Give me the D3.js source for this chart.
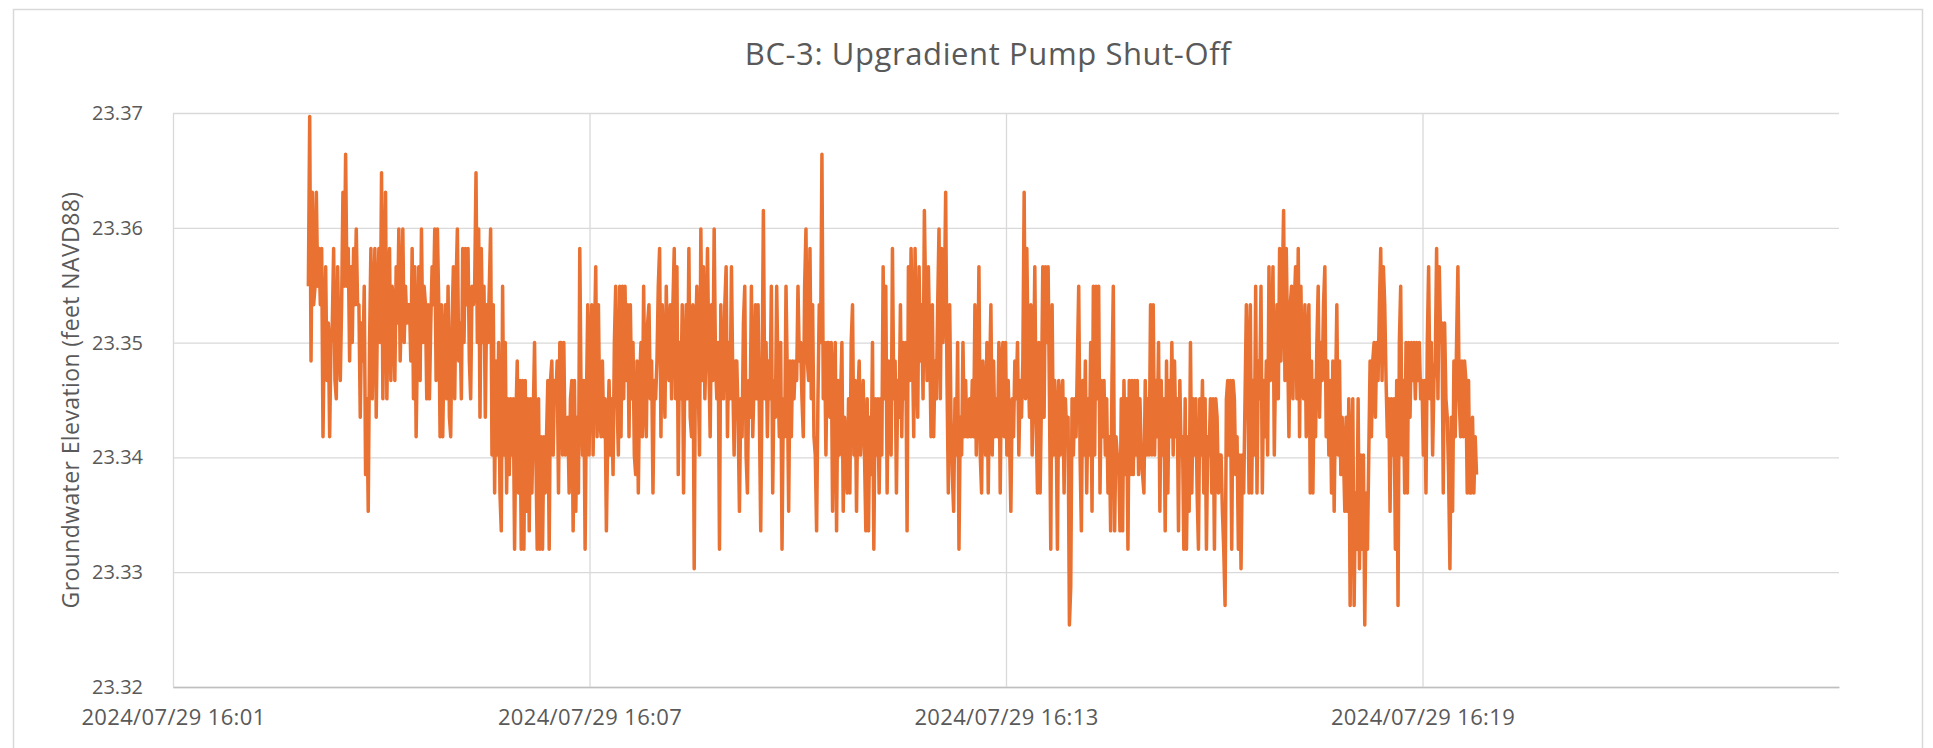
<!DOCTYPE html>
<html>
<head>
<meta charset="utf-8">
<script src="https://cdn.jsdelivr.net/npm/d3@7"></script>
<style>
  html, body { margin: 0; padding: 0; background: #ffffff; }
  svg text { font-family: "Open Sans", "Noto Sans", sans-serif; fill: #595959; }
</style>
</head>
<body>
<svg id="chart" width="1933" height="748"></svg>
<script>
// ---- chart text ----
const chartTitle = "BC-3: Upgradient Pump Shut-Off";
const yAxisTitle = "Groundwater Elevation (feet NAVD88)";

// ---- axes ----
const yTicks = [23.32, 23.33, 23.34, 23.35, 23.36, 23.37];
const xTickLabels = ["2024/07/29 16:01", "2024/07/29 16:07", "2024/07/29 16:13", "2024/07/29 16:19"];
const xDomain = ["2024/07/29 16:01", "2024/07/29 16:25"];

// ---- logger readings (feet NAVD88), evenly spaced from the first reading ----
const firstReading = "2024/07/29 16:02:57";
const readingIntervalMs = 1150;
const elevationFt = [
  23.3549, 23.3697, 23.3484, 23.3631, 23.3533, 23.3549, 23.3631, 23.3549, 23.3582, 23.3533,
  23.3582, 23.3418, 23.3517, 23.3566, 23.3467, 23.3517, 23.3418, 23.3500, 23.3517, 23.3582,
  23.3467, 23.3451, 23.3566, 23.3500, 23.3467, 23.3533, 23.3631, 23.3549, 23.3664, 23.3549,
  23.3582, 23.3484, 23.3566, 23.3500, 23.3582, 23.3533, 23.3599, 23.3533, 23.3533, 23.3435,
  23.3517, 23.3484, 23.3549, 23.3385, 23.3451, 23.3353, 23.3500, 23.3582, 23.3451, 23.3533,
  23.3582, 23.3435, 23.3533, 23.3582, 23.3500, 23.3648, 23.3451, 23.3549, 23.3631, 23.3451,
  23.3533, 23.3582, 23.3467, 23.3549, 23.3533, 23.3467, 23.3566, 23.3517, 23.3599, 23.3484,
  23.3533, 23.3599, 23.3500, 23.3549, 23.3517, 23.3533,

  23.3533, 23.3484, 23.3582, 23.3451, 23.3566, 23.3418, 23.3500, 23.3566, 23.3467, 23.3599,
  23.3500, 23.3549, 23.3533, 23.3451, 23.3533, 23.3451, 23.3517, 23.3566, 23.3533, 23.3599,
  23.3467, 23.3599, 23.3533, 23.3418, 23.3533, 23.3418, 23.3500, 23.3533, 23.3451, 23.3549,
  23.3435, 23.3418, 23.3517, 23.3566, 23.3451, 23.3549, 23.3599, 23.3484, 23.3517, 23.3451,
  23.3582, 23.3500, 23.3582, 23.3533, 23.3582, 23.3484, 23.3451, 23.3549, 23.3533, 23.3549,
  23.3648, 23.3500, 23.3599, 23.3435, 23.3582, 23.3500, 23.3549, 23.3435, 23.3533, 23.3500,
  23.3549, 23.3599, 23.3402, 23.3533, 23.3369, 23.3484, 23.3402, 23.3500, 23.3369, 23.3336,
  23.3549, 23.3402, 23.3500, 23.3369, 23.3451, 23.3385, 23.3451,

  23.3402, 23.3451, 23.3320, 23.3435, 23.3484, 23.3369, 23.3467, 23.3320, 23.3467, 23.3320,
  23.3467, 23.3353, 23.3451, 23.3336, 23.3451, 23.3369, 23.3435, 23.3500, 23.3402, 23.3320,
  23.3451, 23.3320, 23.3418, 23.3320, 23.3418, 23.3369, 23.3418, 23.3467, 23.3320, 23.3467,
  23.3484, 23.3402, 23.3467, 23.3451, 23.3484, 23.3369, 23.3500, 23.3500, 23.3402, 23.3500,
  23.3402, 23.3418, 23.3435, 23.3369, 23.3451, 23.3467, 23.3336, 23.3467, 23.3353, 23.3435,
  23.3369, 23.3582, 23.3451, 23.3402, 23.3467, 23.3320, 23.3451, 23.3533, 23.3402, 23.3500,
  23.3533, 23.3402, 23.3500, 23.3566, 23.3418, 23.3533, 23.3435, 23.3418, 23.3484, 23.3418,
  23.3451, 23.3336, 23.3418, 23.3467, 23.3402, 23.3451, 23.3385, 23.3500, 23.3549, 23.3451,

  23.3402, 23.3549, 23.3418, 23.3549, 23.3451, 23.3549, 23.3467, 23.3533, 23.3418, 23.3533,
  23.3451, 23.3500, 23.3402, 23.3385, 23.3484, 23.3369, 23.3467, 23.3500, 23.3418, 23.3549,
  23.3451, 23.3418, 23.3517, 23.3533, 23.3451, 23.3484, 23.3369, 23.3467, 23.3451, 23.3484,
  23.3549, 23.3582, 23.3418, 23.3533, 23.3484, 23.3435, 23.3549, 23.3484, 23.3467, 23.3533,
  23.3451, 23.3533, 23.3582, 23.3451, 23.3566, 23.3385, 23.3500, 23.3451, 23.3533, 23.3369,
  23.3484, 23.3533, 23.3451, 23.3582, 23.3435, 23.3418, 23.3533, 23.3303, 23.3500, 23.3549,
  23.3467, 23.3402, 23.3599, 23.3467, 23.3566, 23.3451, 23.3500, 23.3582, 23.3484, 23.3418,
  23.3533, 23.3467, 23.3599, 23.3484, 23.3451, 23.3500, 23.3320, 23.3533, 23.3467,

  23.3451, 23.3533, 23.3566, 23.3418, 23.3500, 23.3451, 23.3566, 23.3467, 23.3402, 23.3484,
  23.3484, 23.3435, 23.3353, 23.3451, 23.3418, 23.3517, 23.3549, 23.3402, 23.3369, 23.3467,
  23.3435, 23.3549, 23.3418, 23.3467, 23.3533, 23.3451, 23.3533, 23.3435, 23.3336, 23.3467,
  23.3615, 23.3451, 23.3500, 23.3418, 23.3484, 23.3451, 23.3549, 23.3369, 23.3467, 23.3435,
  23.3549, 23.3467, 23.3418, 23.3500, 23.3320, 23.3451, 23.3418, 23.3549, 23.3467, 23.3353,
  23.3484, 23.3418, 23.3484, 23.3451, 23.3484, 23.3467, 23.3549, 23.3484, 23.3500, 23.3451,
  23.3418, 23.3549, 23.3599, 23.3484, 23.3467, 23.3582, 23.3451, 23.3533, 23.3418, 23.3402,
  23.3336, 23.3451, 23.3533, 23.3500, 23.3664, 23.3451, 23.3500, 23.3402, 23.3500,

  23.3500, 23.3435, 23.3500, 23.3353, 23.3467, 23.3500, 23.3336, 23.3467, 23.3402, 23.3451,
  23.3500, 23.3353, 23.3435, 23.3402, 23.3369, 23.3451, 23.3369, 23.3500, 23.3533, 23.3402,
  23.3467, 23.3353, 23.3451, 23.3484, 23.3402, 23.3435, 23.3467, 23.3402, 23.3336, 23.3451,
  23.3336, 23.3435, 23.3385, 23.3500, 23.3320, 23.3451, 23.3402, 23.3451, 23.3369, 23.3451,
  23.3402, 23.3566, 23.3451, 23.3549, 23.3369, 23.3484, 23.3435, 23.3402, 23.3582, 23.3451,
  23.3484, 23.3369, 23.3467, 23.3435, 23.3533, 23.3418, 23.3500, 23.3451, 23.3500, 23.3336,
  23.3566, 23.3467, 23.3582, 23.3500, 23.3418, 23.3582, 23.3484, 23.3435, 23.3566, 23.3484,
  23.3533, 23.3451, 23.3615, 23.3533, 23.3467, 23.3566, 23.3500, 23.3418, 23.3533,

  23.3418, 23.3484, 23.3451, 23.3533, 23.3599, 23.3451, 23.3582, 23.3500, 23.3533, 23.3631,
  23.3467, 23.3369, 23.3533, 23.3435, 23.3385, 23.3353, 23.3451, 23.3402, 23.3500, 23.3320,
  23.3435, 23.3402, 23.3500, 23.3418, 23.3467, 23.3418, 23.3418, 23.3451, 23.3418, 23.3467,
  23.3418, 23.3533, 23.3402, 23.3451, 23.3566, 23.3402, 23.3369, 23.3484, 23.3451, 23.3402,
  23.3500, 23.3369, 23.3467, 23.3533, 23.3402, 23.3484, 23.3418, 23.3451, 23.3418, 23.3500,
  23.3369, 23.3484, 23.3500, 23.3418, 23.3500, 23.3402, 23.3467, 23.3418, 23.3353, 23.3451,
  23.3418, 23.3484, 23.3451, 23.3500, 23.3402, 23.3467, 23.3435, 23.3484, 23.3631, 23.3451,
  23.3582, 23.3484, 23.3435, 23.3533, 23.3402, 23.3467, 23.3566, 23.3435, 23.3369,

  23.3500, 23.3369, 23.3451, 23.3566, 23.3435, 23.3566, 23.3500, 23.3566, 23.3451, 23.3320,
  23.3533, 23.3402, 23.3467, 23.3435, 23.3320, 23.3467, 23.3402, 23.3451, 23.3467, 23.3369,
  23.3451, 23.3418, 23.3435, 23.3254, 23.3287, 23.3451, 23.3402, 23.3451, 23.3418, 23.3484,
  23.3549, 23.3402, 23.3336, 23.3467, 23.3402, 23.3484, 23.3369, 23.3451, 23.3402, 23.3500,
  23.3353, 23.3549, 23.3402, 23.3549, 23.3451, 23.3549, 23.3369, 23.3467, 23.3418, 23.3467,
  23.3402, 23.3451, 23.3369, 23.3418, 23.3336, 23.3467, 23.3549, 23.3336, 23.3418, 23.3402,
  23.3402, 23.3336, 23.3451, 23.3336, 23.3467, 23.3385, 23.3451, 23.3320, 23.3467, 23.3385,
  23.3467, 23.3385, 23.3467, 23.3402, 23.3467, 23.3385, 23.3451, 23.3402, 23.3385,

  23.3369, 23.3467, 23.3402, 23.3451, 23.3402, 23.3533, 23.3402, 23.3533, 23.3402, 23.3467,
  23.3418, 23.3500, 23.3353, 23.3467, 23.3402, 23.3451, 23.3336, 23.3484, 23.3369, 23.3467,
  23.3418, 23.3500, 23.3402, 23.3484, 23.3418, 23.3451, 23.3336, 23.3467, 23.3402, 23.3418,
  23.3320, 23.3451, 23.3320, 23.3418, 23.3353, 23.3500, 23.3369, 23.3451, 23.3402, 23.3451,
  23.3369, 23.3320, 23.3451, 23.3402, 23.3467, 23.3369, 23.3451, 23.3320, 23.3418, 23.3402,
  23.3451, 23.3369, 23.3451, 23.3320, 23.3451, 23.3435, 23.3369, 23.3402, 23.3402, 23.3353,
  23.3320, 23.3271, 23.3451, 23.3467, 23.3402, 23.3467, 23.3320, 23.3467, 23.3451, 23.3385,
  23.3418, 23.3320, 23.3402, 23.3303, 23.3402, 23.3369, 23.3451, 23.3533, 23.3484,

  23.3369, 23.3533, 23.3369, 23.3467, 23.3402, 23.3549, 23.3369, 23.3484, 23.3451, 23.3549,
  23.3369, 23.3467, 23.3418, 23.3484, 23.3402, 23.3566, 23.3467, 23.3500, 23.3566, 23.3402,
  23.3484, 23.3533, 23.3451, 23.3582, 23.3484, 23.3549, 23.3615, 23.3467, 23.3582, 23.3500,
  23.3418, 23.3533, 23.3549, 23.3451, 23.3533, 23.3566, 23.3451, 23.3582, 23.3418, 23.3549,
  23.3467, 23.3451, 23.3533, 23.3418, 23.3500, 23.3533, 23.3369, 23.3484, 23.3369, 23.3467,
  23.3418, 23.3500, 23.3549, 23.3435, 23.3500, 23.3467, 23.3533, 23.3566, 23.3418, 23.3484,
  23.3402, 23.3467, 23.3369, 23.3484, 23.3353, 23.3451, 23.3533, 23.3402, 23.3484, 23.3385,
  23.3435, 23.3402, 23.3353, 23.3435, 23.3353, 23.3451, 23.3271, 23.3402, 23.3451,

  23.3271, 23.3369, 23.3320, 23.3451, 23.3303, 23.3402, 23.3320, 23.3402, 23.3254, 23.3369,
  23.3320, 23.3402, 23.3484, 23.3418, 23.3484, 23.3500, 23.3435, 23.3500, 23.3467, 23.3533,
  23.3582, 23.3467, 23.3566, 23.3533, 23.3467, 23.3418, 23.3451, 23.3353, 23.3451, 23.3402,
  23.3451, 23.3320, 23.3467, 23.3271, 23.3500, 23.3549, 23.3402, 23.3467, 23.3369, 23.3500,
  23.3369, 23.3500, 23.3435, 23.3500, 23.3467, 23.3500, 23.3451, 23.3500, 23.3467, 23.3500,
  23.3451, 23.3467, 23.3402, 23.3467, 23.3369, 23.3500, 23.3566, 23.3451, 23.3500, 23.3402,
  23.3467, 23.3484, 23.3582, 23.3451, 23.3566, 23.3500, 23.3517, 23.3369, 23.3517, 23.3451,
  23.3435, 23.3385, 23.3303, 23.3435, 23.3353, 23.3484, 23.3418, 23.3500, 23.3566, 23.3451,
  23.3418, 23.3484, 23.3418, 23.3484, 23.3467, 23.3369, 23.3467, 23.3369, 23.3369, 23.3435,
  23.3369, 23.3418, 23.3385
];

// ---- layout ----
const plot = { left: 173, right: 1839, top: 113, bottom: 687 };
const lineColor = "#E97132";
const gridColor = "#d9d9d9";
const labelFont = '"Open Sans", "Noto Sans", sans-serif';

const svg = d3.select("#chart");

// chart-area frame
svg.append("rect")
  .attr("x", 13.5).attr("y", 9.5)
  .attr("width", 1909).attr("height", 760)
  .attr("fill", "#ffffff").attr("stroke", "#d9d9d9").attr("stroke-width", 1.5);

const parseMinute = d3.timeParse("%Y/%m/%d %H:%M");
const parseSecond = d3.timeParse("%Y/%m/%d %H:%M:%S");

const x = d3.scaleTime()
  .domain(xDomain.map(parseMinute))
  .range([plot.left, plot.right]);
const y = d3.scaleLinear()
  .domain([yTicks[0], yTicks[yTicks.length - 1]])
  .range([plot.bottom, plot.top]);

// horizontal gridlines + value labels
const yAxis = svg.append("g")
  .attr("transform", `translate(${plot.left},0)`)
  .call(d3.axisLeft(y)
    .tickValues(yTicks)
    .tickFormat(d3.format(".2f"))
    .tickSize(-(plot.right - plot.left))
    .tickPadding(30));
yAxis.select(".domain").remove();
yAxis.selectAll(".tick line").attr("stroke", gridColor).attr("stroke-width", 1.3);
yAxis.selectAll(".tick text")
  .attr("font-size", 20).attr("fill", "#595959")
  .style("font-family", labelFont);

// vertical gridlines + time labels
const xAxis = svg.append("g")
  .attr("transform", `translate(0,${plot.bottom})`)
  .call(d3.axisBottom(x)
    .tickValues(xTickLabels.map(parseMinute))
    .tickFormat(d3.timeFormat("%Y/%m/%d %H:%M"))
    .tickSize(-(plot.bottom - plot.top))
    .tickSizeOuter(0)
    .tickPadding(22));
xAxis.select(".domain").attr("stroke", "#bfbfbf").attr("stroke-width", 1.3);
xAxis.selectAll(".tick line").attr("stroke", gridColor).attr("stroke-width", 1.3);
xAxis.selectAll(".tick text")
  .attr("font-size", 22).attr("fill", "#595959")
  .attr("letter-spacing", "0.35px")
  .style("font-family", labelFont);

// readings
const t0 = parseSecond(firstReading).getTime();
const readings = elevationFt.map((v, i) => ({ t: new Date(t0 + i * readingIntervalMs), v }));

svg.append("path")
  .datum(readings)
  .attr("fill", "none")
  .attr("stroke", lineColor)
  .attr("stroke-width", 3.5)
  .attr("stroke-linejoin", "round")
  .attr("d", d3.line().x(d => x(d.t)).y(d => y(d.v)));

// title
svg.append("text")
  .attr("x", 988).attr("y", 65)
  .attr("text-anchor", "middle")
  .attr("font-size", 31)
  .attr("letter-spacing", "0.6px")
  .text(chartTitle);

// y-axis title
svg.append("text")
  .attr("transform", `translate(79,${(plot.top + plot.bottom) / 2}) rotate(-90)`)
  .attr("text-anchor", "middle")
  .attr("font-size", 23)
  .attr("letter-spacing", "0.4px")
  .text(yAxisTitle);
</script>
</body>
</html>
